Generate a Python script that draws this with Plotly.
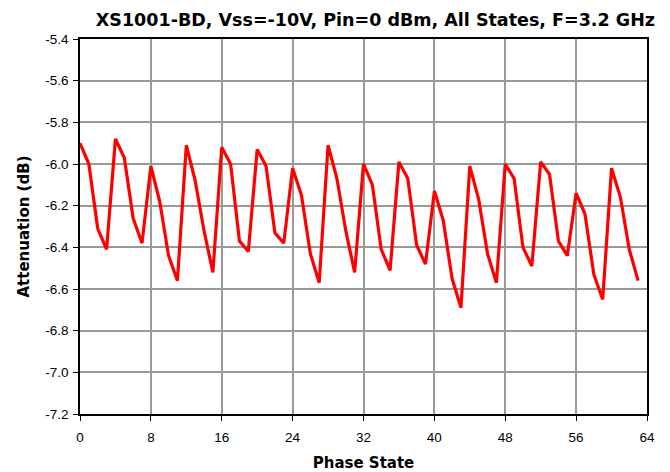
import plotly.graph_objects as go

phase_state = list(range(64))
attenuation_db = [
    -5.90, -6.00, -6.31, -6.41, -5.88, -5.97, -6.26, -6.38,
    -6.01, -6.18, -6.44, -6.56, -5.91, -6.08, -6.32, -6.52,
    -5.92, -6.00, -6.37, -6.42, -5.93, -6.01, -6.33, -6.38,
    -6.02, -6.15, -6.43, -6.57, -5.91, -6.07, -6.32, -6.52,
    -6.00, -6.10, -6.41, -6.51, -5.99, -6.07, -6.39, -6.48,
    -6.13, -6.27, -6.55, -6.69, -6.01, -6.17, -6.43, -6.57,
    -6.00, -6.07, -6.40, -6.49, -5.99, -6.05, -6.37, -6.44,
    -6.14, -6.24, -6.53, -6.65, -6.02, -6.16, -6.41, -6.56,
]
x_ticks = [0, 8, 16, 24, 32, 40, 48, 56, 64]
y_ticks = [-7.2, -7.0, -6.8, -6.6, -6.4, -6.2, -6.0, -5.8, -5.6, -5.4]

tick_font = dict(family="Liberation Sans, Arial", size=13.5, color="black")
title_font = dict(family="DejaVu Sans", size=15, color="black")

fig = go.Figure()
fig.add_trace(go.Scatter(
    x=phase_state, y=attenuation_db, mode="lines",
    line=dict(color="#ff0000", width=3.2), showlegend=False,
))

fig.update_layout(
    width=662, height=464,
    margin=dict(l=72, r=23, t=31, b=58, autoexpand=False),
    paper_bgcolor="white", plot_bgcolor="white",
    title=dict(
        text="<b>XS1001-BD, Vss=-10V, Pin=0 dBm, All States, F=3.2 GHz</b>",
        font=dict(family="DejaVu Sans", size=17.5, color="black"),
        x=0.555, xanchor="center", y=0.974, yanchor="middle",
    ),
    xaxis=dict(
        range=[0, 64], tickvals=x_ticks, ticktext=[str(v) for v in x_ticks],
        showgrid=True, gridcolor="#999999", gridwidth=2,
        showline=True, linecolor="black", linewidth=1.5, mirror=True,
        ticks="outside", ticklen=5, tickcolor="black", ticklabelstandoff=5,
        tickfont=tick_font, automargin=False,
        title=dict(text="<b>Phase State</b>", font=title_font, standoff=16),
        zeroline=False,
    ),
    yaxis=dict(
        range=[-7.2, -5.4], tickvals=y_ticks, ticktext=[f"{v:.1f}" for v in y_ticks],
        showgrid=True, gridcolor="#999999", gridwidth=2,
        showline=True, linecolor="black", linewidth=1.5, mirror=True,
        ticks="outside", ticklen=5, tickcolor="black", ticklabelstandoff=2,
        tickfont=tick_font, automargin=False,
        title=dict(text="<b>Attenuation (dB)</b>", font=title_font, standoff=12),
        zeroline=False,
    ),
)

fig.write_html("out.html")
